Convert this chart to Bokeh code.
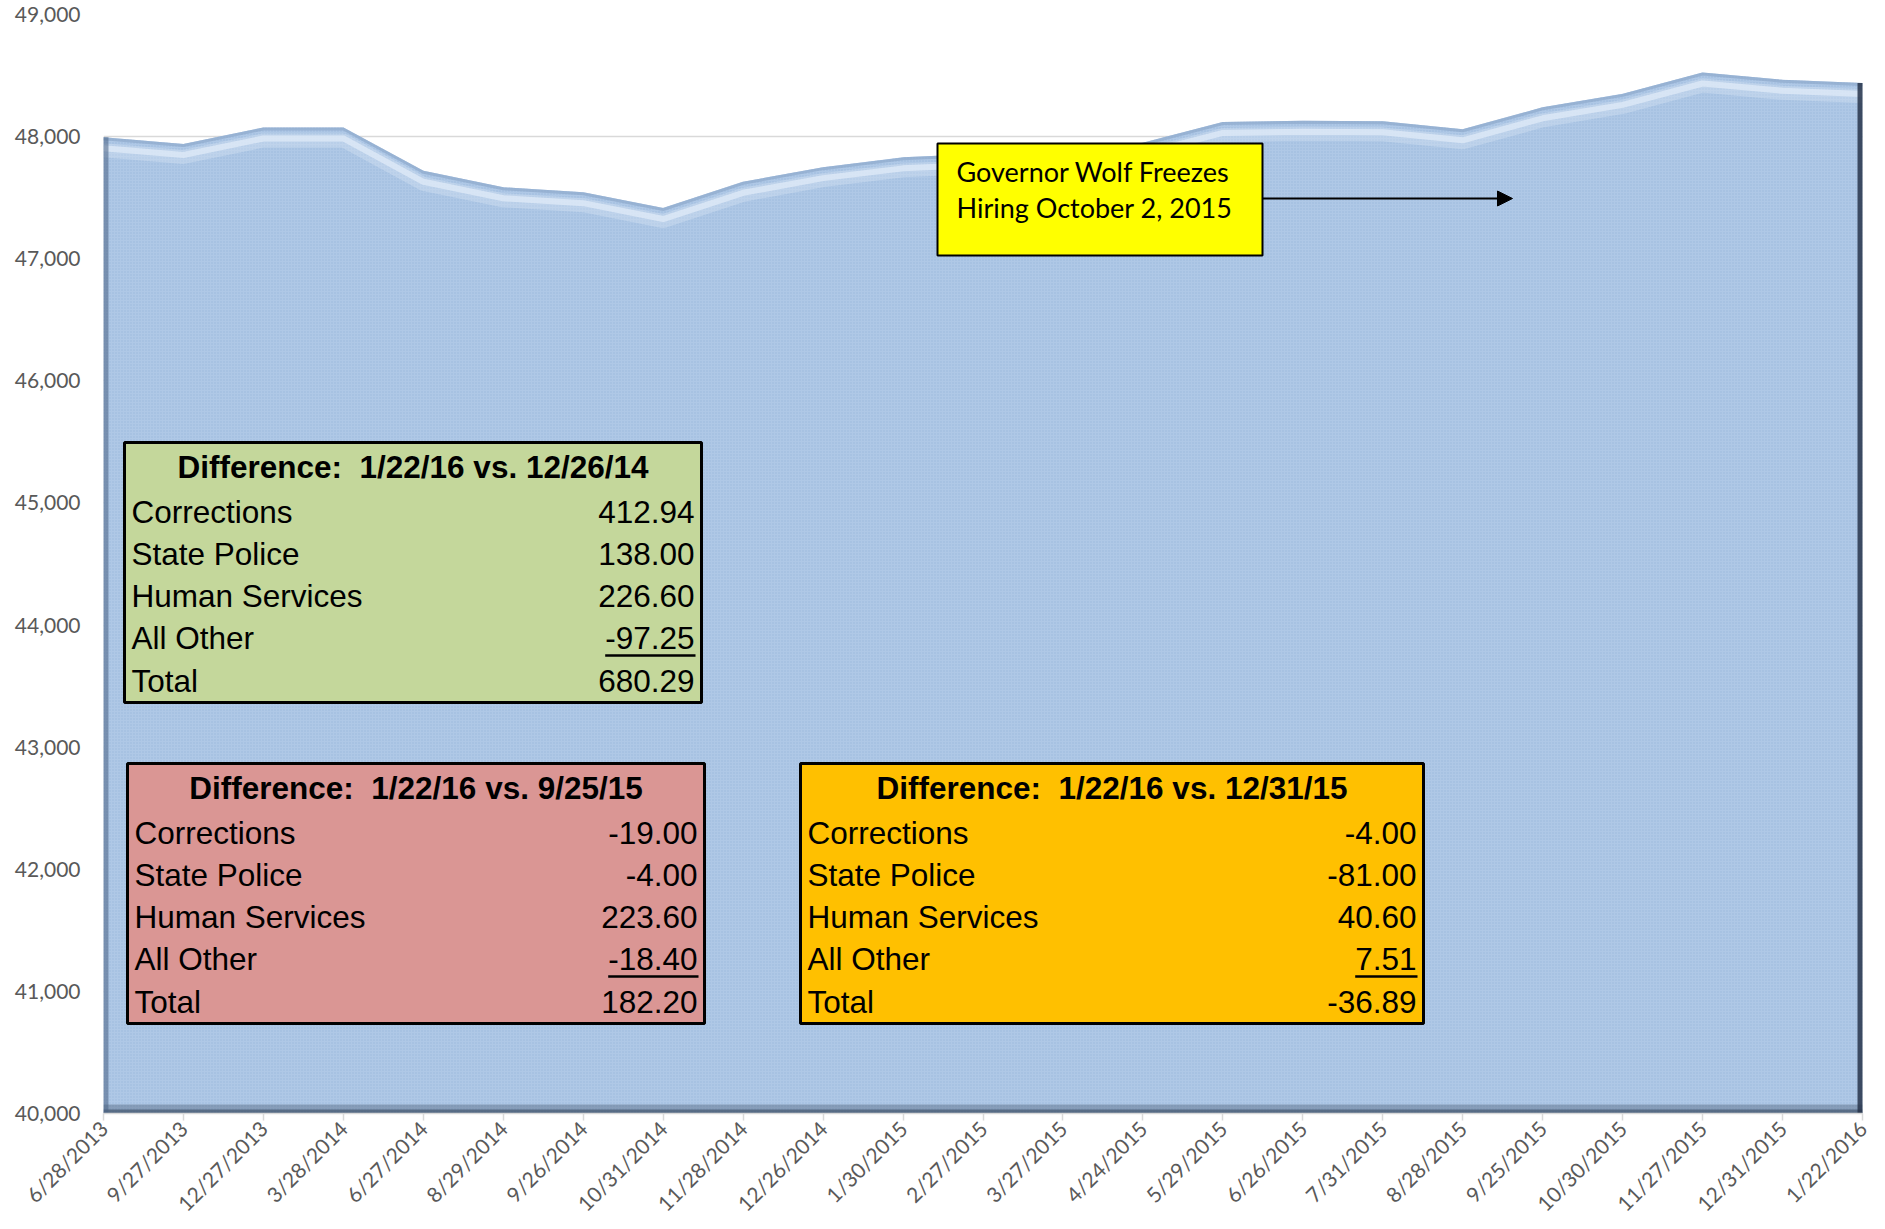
import math
import numpy as np
from bokeh.plotting import figure
from bokeh.models import Range1d, FixedTicker, NumeralTickFormatter, Arrow, NormalHead
from bokeh.core.properties import value
from bokeh.embed import file_html
from bokeh.resources import INLINE

# ---------------- data ----------------
dates = ["6/28/2013", "9/27/2013", "12/27/2013", "3/28/2014", "6/27/2014", "8/29/2014",
         "9/26/2014", "10/31/2014", "11/28/2014", "12/26/2014", "1/30/2015", "2/27/2015",
         "3/27/2015", "4/24/2015", "5/29/2015", "6/26/2015", "7/31/2015", "8/28/2015",
         "9/25/2015", "10/30/2015", "11/27/2015", "12/31/2015", "1/22/2016"]
complement = [47995, 47940, 48075, 48075, 47720, 47585, 47545, 47415, 47630, 47750, 47830,
              47860, 47880, 47950, 48120, 48130, 48125, 48060, 48240, 48350, 48525, 48465, 48440]
y_ticks = [40000, 41000, 42000, 43000, 44000, 45000, 46000, 47000, 48000, 49000]

row_labels = ["Corrections", "State Police", "Human Services", "All Other", "Total"]
diff_vs_dec2014 = [412.94, 138.00, 226.60, -97.25, 680.29]
diff_vs_sep2015 = [-19.00, -4.00, 223.60, -18.40, 182.20]
diff_vs_dec2015 = [-4.00, -81.00, 40.60, 7.51, -36.89]
titles = ["Difference:\u00a0 1/22/16 vs. 12/26/14",
          "Difference:\u00a0 1/22/16 vs. 9/25/15",
          "Difference:\u00a0 1/22/16 vs. 12/31/15"]
note_lines = ["Governor Wolf Freezes", "Hiring October 2, 2015"]

# ---------------- layout (page pixels) ----------------
FX0, FX1 = 103.0, 1862.0   # frame left/right on page
FY0, FY1 = 14.0, 1113.0    # frame top/bottom on page
YMIN, YMAX = 40000, 49000
W, H = 1885, 1228
NX = len(dates) - 1


def dx(px):
    return (px - FX0) / (FX1 - FX0) * NX


def dy(py):
    return YMAX - (py - FY0) / (FY1 - FY0) * (YMAX - YMIN)


def pxh(n):  # n pixels in data-y units
    return n / (FY1 - FY0) * (YMAX - YMIN)


p = figure(width=W, height=H, output_backend="svg", toolbar_location=None,
           x_range=Range1d(0, NX), y_range=Range1d(YMIN, YMAX),
           min_border_left=int(FX0), min_border_right=int(W - FX1),
           min_border_top=int(FY0), min_border_bottom=int(H - FY1))
p.outline_line_color = None
p.background_fill_color = "white"

xs = np.arange(len(dates))
ys = np.array(complement, dtype=float)

# axes
LBL = "#595959"
p.xaxis.ticker = FixedTicker(ticks=list(xs))
p.xaxis.major_label_overrides = {int(i): d for i, d in zip(xs, dates)}
p.xaxis.major_label_orientation = math.pi / 4
p.xaxis.major_label_text_font = "Lato"
p.xaxis.major_label_text_font_size = "21px"
p.xaxis.major_label_text_color = LBL
p.xaxis.axis_line_color = "#d9d9d9"
p.xaxis.axis_line_width = 1.5
p.xaxis.major_tick_line_color = "#d9d9d9"
p.xaxis.major_tick_line_width = 1.5
p.xaxis.major_tick_out = 7
p.xaxis.major_tick_in = 0
p.xaxis.minor_tick_line_color = None
p.xaxis.major_label_standoff = 4

p.yaxis.ticker = FixedTicker(ticks=y_ticks)
p.yaxis.formatter = NumeralTickFormatter(format="0,0")
p.yaxis.major_label_text_font = "Lato"
p.yaxis.major_label_text_font_size = "21px"
p.yaxis.major_label_text_color = LBL
p.yaxis.axis_line_color = None
p.yaxis.major_tick_line_color = None
p.yaxis.minor_tick_line_color = None
p.yaxis.major_tick_out = 0
p.yaxis.major_tick_in = 0
p.yaxis.major_label_standoff = 23

p.xgrid.grid_line_color = None
p.ygrid.grid_line_color = "#d9d9d9"
p.ygrid.grid_line_width = 1.5

# ---------------- area with bevel look ----------------
p.varea(x=xs, y1=YMIN, y2=ys, fill_color="#afc8e6",
        hatch_pattern="dot", hatch_color="#86a3cc", hatch_scale=3, hatch_alpha=0.45)
# highlight under the top edge
p.line(xs, ys - pxh(13), line_color="#e6effa", line_width=14, line_alpha=0.3)
p.line(xs, ys - pxh(11), line_color="#e9f1fb", line_width=6, line_alpha=0.6)
p.line(xs, ys - pxh(1.5), line_color="#8fa9cc", line_width=3, line_alpha=0.7)
# dark edges
p.line([xs[0], xs[-1]], [YMIN, YMIN], line_color="#3b4c64", line_width=18, line_alpha=0.35)
p.line([xs[0], xs[-1]], [YMIN, YMIN], line_color="#3b4c64", line_width=8, line_alpha=0.6)
p.segment(x0=[xs[0]], y0=[YMIN], x1=[xs[0]], y1=[ys[0]], line_color="#4a6283", line_width=10, line_alpha=0.55)
p.segment(x0=[xs[-1]], y0=[YMIN], x1=[xs[-1]], y1=[ys[-1]], line_color="#27344a", line_width=10, line_alpha=0.85)

# ---------------- difference tables ----------------
FONT = value("Liberation Sans")
FSN = 31.5
FS = f"{FSN}px"
DIGIT_W = {"-": 0.333, ".": 0.278}


def text_w(s, size=FSN):
    return sum(DIGIT_W.get(c, 0.556) for c in s) * size


boxes = [
    (124, 442, 701, 702, "#c4d79b", titles[0], diff_vs_dec2014),
    (127, 763, 704, 1023, "#da9694", titles[1], diff_vs_sep2015),
    (800, 763, 1423, 1023, "#ffc000", titles[2], diff_vs_dec2015),
]
for (l, t, r, b, col, title, vals) in boxes:
    p.quad(left=dx(l), right=dx(r), top=dy(t), bottom=dy(b), fill_color=col,
           line_color="black", line_width=3)
    p.text(x=[dx((l + r) / 2)], y=[dy(t + 24)], text=[title], text_font=FONT,
           text_font_size=FS, text_font_style="bold", text_align="center",
           text_baseline="middle", text_color="black")
    row_y = [t + 69 + 42.3 * i for i in range(len(row_labels))]
    p.text(x=[dx(l + 7)] * len(row_labels), y=[dy(v) for v in row_y], text=row_labels,
           text_font=FONT, text_font_size=FS, text_align="left", text_baseline="middle",
           text_color="black")
    vtxt = [f"{v:.2f}" for v in vals]
    p.text(x=[dx(r - 7)] * len(vals), y=[dy(v) for v in row_y], text=vtxt,
           text_font=FONT, text_font_size=FS, text_align="right", text_baseline="middle",
           text_color="black")
    uw = text_w(vtxt[3])
    p.line([dx(r - 7 - uw), dx(r - 6)], [dy(row_y[3] + 17)] * 2, line_color="black", line_width=2.5)

# ---------------- hiring-freeze note ----------------
p.quad(left=dx(937), right=dx(1262), top=dy(143), bottom=dy(255), fill_color="#ffff00",
       line_color="black", line_width=2)
p.text(x=[dx(956)] * 2, y=[dy(171), dy(207)], text=note_lines, text_font=value("Lato"),
       text_font_size="27px", text_align="left", text_baseline="middle", text_color="black")
p.add_layout(Arrow(end=NormalHead(size=15, fill_color="black", line_color="black"),
                   x_start=dx(1262), y_start=dy(198), x_end=dx(1512), y_end=dy(198),
                   line_color="black", line_width=2))

open("out.html", "w").write(file_html(p, INLINE))
